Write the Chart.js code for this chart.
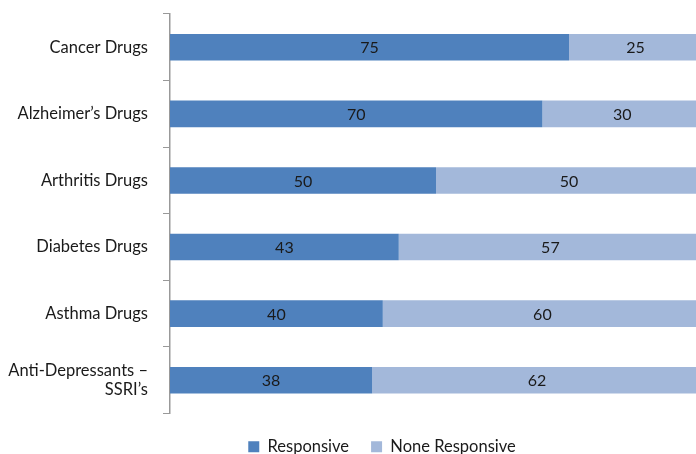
<!DOCTYPE html>
<html>
<head>
<meta charset="utf-8">
<script src="https://cdn.jsdelivr.net/npm/chart.js@4/dist/chart.umd.min.js"></script>
<style>
  html, body { margin: 0; padding: 0; overflow: hidden; background: #fff; }
  #wrap { width: 702px; height: 454px; }
</style>
</head>
<body>
<div id="wrap"><canvas id="chart" width="702" height="454"></canvas></div>
<script>
var categories = ["Cancer Drugs", "Alzheimer\u2019s Drugs", "Arthritis Drugs", "Diabetes Drugs", "Asthma Drugs", ["Anti-Depressants \u2013", "SSRI\u2019s"]];
var responsive = [75, 70, 50, 43, 40, 38];
var noneResponsive = [25, 30, 50, 57, 60, 62];
var seriesNames = ["Responsive", "None Responsive"];

var FONT = "Lato, 'Open Sans', sans-serif";

// draws each value in the middle of its bar segment
var valueLabels = {
    id: "valueLabels",
    afterDatasetsDraw: function(chart) {
        var ctx = chart.ctx;
        ctx.save();
        ctx.font = "16px " + FONT;
        ctx.fillStyle = "#1a1a1a";
        ctx.textAlign = "center";
        ctx.textBaseline = "middle";
        chart.data.datasets.forEach(function(ds, i) {
            chart.getDatasetMeta(i).data.forEach(function(bar, j) {
                var x = (bar.x + bar.base) / 2;
                ctx.fillText(ds.data[j], x, bar.y + 1);
            });
        });
        ctx.restore();
    }
};

// nudge the legend: it sits a bit right of the page centre in the original
var legendShift = {
    id: "legendShift",
    afterLayout: function(chart) {
        var lg = chart.legend;
        lg.left += 31; lg.right += 31;
        lg.top += 3; lg.bottom += 3;
    }
};

var chart = new Chart(document.getElementById("chart").getContext("2d"), {
    type: "bar",
    data: {
        labels: categories,
        datasets: [{
            label: seriesNames[0],
            data: responsive,
            backgroundColor: "#4F81BD",
            barPercentage: 0.4,
            categoryPercentage: 1.0
        }, {
            label: seriesNames[1],
            data: noneResponsive,
            backgroundColor: "#A3B8DA",
            barPercentage: 0.4,
            categoryPercentage: 1.0
        }]
    },
    options: {
        indexAxis: "y",
        responsive: false,
        animation: false,
        layout: { padding: { top: 14, right: 0, bottom: -8, left: 0 } },
        scales: {
            x: {
                stacked: true,
                min: 0,
                max: 100,
                display: false
            },
            y: {
                stacked: true,
                grid: {
                    offset: true,
                    drawOnChartArea: false,
                    color: "#999",
                    tickLength: 7
                },
                border: { color: "#999", width: 1.5 },
                ticks: {
                    color: "#1a1a1a",
                    padding: 15,
                    font: { family: FONT, size: 16.5 }
                },
                afterFit: function(scale) {
                    scale.width = 170;
                    scale.paddingTop = 0;
                    scale.paddingBottom = 0;
                }
            }
        },
        plugins: {
            legend: {
                position: "bottom",
                labels: {
                    boxWidth: 11,
                    boxHeight: 11,
                    padding: 22,
                    color: "#1a1a1a",
                    font: { family: FONT, size: 16.5 }
                }
            },
            tooltip: { enabled: false }
        }
    },
    plugins: [valueLabels, legendShift]
});
</script>
</body>
</html>
